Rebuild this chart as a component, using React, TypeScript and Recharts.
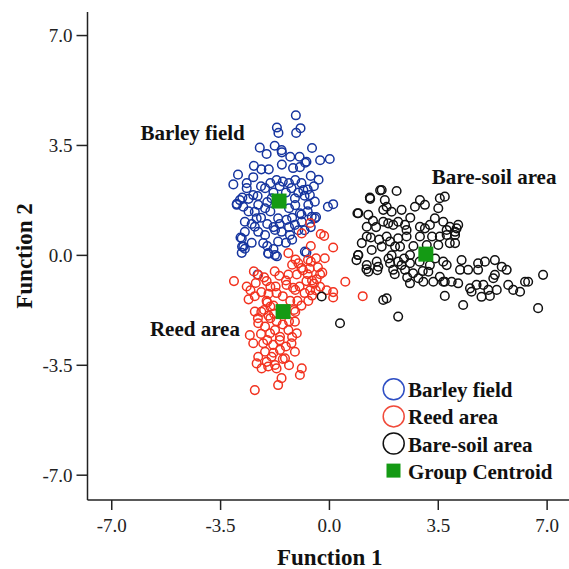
import React from "react";
import { ScatterChart, Scatter, XAxis, YAxis } from "recharts";

// discriminant scores, [function 1, function 2]
const barleyPoints: [number, number][] = [
  [-1.08, 4.46], [-1.69, 4.07], [-1.64, 3.9], [-0.93, 4.05], [-1.07, 3.9],
  [-2.24, 3.43], [-2.02, 3.23], [-1.76, 3.49], [-1.54, 3.35], [-1.53, 3.28], [-0.56, 3.42],
  [-1.26, 3.14], [-0.96, 3.14], [-0.74, 2.98], [-0.78, 2.95], [-0.3, 3.03], [0.01, 3.07],
  [-2.43, 2.85], [-2.19, 2.74], [-1.95, 2.74], [-1.53, 2.89], [-1.17, 2.78], [-0.95, 2.81],
  [-2.94, 2.57], [-3.09, 2.26], [-2.66, 2.3], [-2.45, 2.49], [-0.6, 2.53], [-0.35, 2.41],
  [-2.98, 1.64], [-2.8, 1.84], [-2.6, 1.8], [-2.31, 1.89],
  [-2.86, 0.57], [-2.81, 0.28], [-2.72, 0.21], [-2.82, 0.08],
  [-1.96, 0.05], [-1.69, -0.03], [-0.74, 0.09], [-2.31, -0.61], [-0.05, 1.55], [0.12, 1.63], [-0.43, 1.22],
  [-2.88, 1.76], [-2.98, 1.61], [-2.77, 1.55], [-2.72, 1.07], [-2.72, 0.75], [-2.82, 0.54],
  [-2.77, 0.28], [-2.34, 1.18], [-2.4, 0.91], [-2.29, 0.75], [-2.07, 0.65], [-2.13, 0.39],
  [-1.97, 0.07], [-1.75, 0.01], [-1.65, 1.18], [-1.38, 1.13], [-1.75, 0.81], [-1.54, 0.75],
  [-1.65, 0.44], [-1.27, 0.65], [-1.11, 0.97], [-0.89, 1.07], [-0.95, 1.34], [-0.68, 1.61],
  [-0.57, 1.23], [-0.47, 1.18], [-2.07, 2.14], [-1.86, 1.82], [-1.22, 2.14], [-1.11, 1.82],
  [-0.84, 2.08], [-0.63, 1.92], [-0.47, 1.71], [-2.4, 1.39], [-2.29, 1.61], [-2.07, 1.5],
  [-2.45, 1.92], [-2.66, 2.14], [-0.79, 0.12],
  [-1.9, 2.3], [-1.7, 2.4], [-1.5, 2.35], [-1.3, 2.3], [-1.1, 2.4], [-0.9, 2.3], [-2.2, 2.2],
  [-1.8, 2.0], [-1.4, 2.0], [-1.0, 2.0], [-0.8, 1.9], [-2.0, 1.7], [-1.9, 1.4], [-1.3, 1.5],
  [-1.1, 1.6], [-0.9, 1.3], [-0.7, 1.4], [-2.2, 1.2], [-2.0, 1.0], [-1.8, 0.9], [-1.6, 1.0],
  [-1.3, 0.9], [-1.0, 0.8], [-0.8, 0.8], [-0.6, 0.9], [-1.4, 0.4], [-1.2, 0.5], [-2.0, 0.3],
  [-1.8, 0.2], [-2.5, 0.4], [-2.5, 1.0], [-2.6, 1.4], [-1.6, 2.2], [-1.2, 1.2], [-0.7, 2.1], [-0.5, 2.2],
];

const reedPoints: [number, number][] = [
  [-0.62, 1.03], [-0.89, 0.7], [-0.28, 0.68], [-0.17, 0.62], [-0.6, 0.3], [0.12, 0.25],
  [-1.32, 0.07], [-1.09, -0.13], [-1.0, -0.25], [-0.69, -0.14], [-0.43, -0.09], [-0.15, -0.09],
  [-2.43, -0.51], [-2.29, -0.62], [-1.76, -0.51], [-1.61, -0.65], [-1.32, -0.61], [-1.05, -0.61],
  [-0.85, -0.47], [-0.64, -0.42], [-0.37, -0.38], [-0.23, -0.55], [-3.07, -0.82], [0.51, -0.84], [1.07, -1.3],
  [-2.66, -0.99], [-2.54, -1.11], [-2.37, -0.88], [-2.02, -0.82], [-1.73, -0.99], [-1.38, -0.94],
  [-1.17, -1.03], [-0.96, -0.99], [-0.74, -0.82], [-0.56, -0.8], [-0.41, -0.76], [-0.62, -1.11],
  [-0.44, -1.11], [-0.09, -1.11], [0.12, -1.17], [0.12, -1.34],
  [-2.19, -1.17], [-1.96, -1.22], [-2.02, -1.45], [-1.9, -1.63], [-2.1, -1.74], [-2.19, -1.8],
  [-1.96, -1.92], [-1.78, -1.86], [-1.26, -1.45], [-1.03, -1.45], [-0.68, -1.45], [-0.56, -1.28], [-1.14, -1.74],
  [-2.4, -1.79], [-2.56, -2.54], [-2.45, -2.8], [-2.29, -3.23], [-2.34, -3.44], [-2.18, -3.6],
  [-1.97, -3.54], [-1.75, -3.49], [-1.43, -3.28], [-1.11, -3.07], [-1.22, -2.8], [-1.05, -2.48],
  [-1.11, -2.11], [-0.89, -3.6], [-0.95, -3.81], [-1.54, -3.91], [-1.65, -4.13], [-2.4, -4.29],
  [-2.07, -2.27], [-1.91, -2.48], [-1.75, -2.38], [-1.59, -2.59], [-1.32, -2.38], [-1.81, -2.85],
  [-1.59, -3.01], [-2.07, -3.07], [-1.86, -3.23], [-2.02, -3.39], [-2.13, -2.8], [-2.29, -2.16],
  [-2.0, -1.5], [-1.8, -1.6], [-1.9, -2.0], [-1.7, -2.1], [-1.5, -2.2], [-1.3, -2.1], [-1.6, -2.7],
  [-1.4, -2.9], [-1.8, -3.1], [-1.5, -3.3], [-2.2, -2.5], [-1.2, -2.6], [-2.0, -2.7], [-1.7, -3.6],
  [-1.3, -3.5], [-2.3, -2.0], [-1.1, -1.8], [-0.9, -1.6], [-0.8, -1.2], [-1.5, -1.3], [-1.7, -1.2],
  [-1.9, -1.0], [-2.1, -0.7], [-1.4, -0.8], [-1.2, -0.3], [-0.9, -0.4], [-0.6, -0.2], [-0.3, -0.6],
  [-0.5, -0.9], [-0.3, -1.0], [-0.7, -0.6], [-1.1, -1.1], [-2.4, -1.3], [-2.6, -1.4],
];

const bareSoilPoints: [number, number][] = [
  [1.68, 2.08], [2.16, 2.05], [1.3, 1.84], [1.78, 1.76], [1.84, 1.55], [0.93, 1.34], [1.25, 1.29],
  [1.73, 1.45], [2.0, 1.39], [2.32, 1.45], [2.75, 1.55], [2.91, 1.76], [3.07, 1.61], [3.55, 1.82],
  [3.71, 1.87], [3.5, 1.5], [1.73, 1.07], [1.89, 1.02], [2.05, 0.97], [2.21, 1.07], [2.43, 0.97],
  [1.2, 0.91], [1.2, 0.6], [1.04, 0.39], [1.36, 0.17], [1.84, 0.6], [1.95, 0.44], [2.21, 0.54],
  [2.48, 0.6], [2.48, 0.81], [2.11, 0.28], [2.27, 0.28], [1.68, 0.28], [2.91, 0.91], [3.07, 0.86],
  [3.23, 0.97], [3.39, 1.18], [3.66, 1.07], [3.77, 0.81], [4.09, 0.86], [4.04, 0.65], [3.55, 0.6],
  [3.13, 0.33], [2.91, 0.6], [3.5, 0.33], [0.93, 0.01], [0.87, -0.15], [1.2, -0.31], [1.25, -0.52],
  [1.52, -0.2], [1.57, -0.36], [1.95, -0.25], [2.21, -0.2], [2.32, -0.31], [2.59, 0.01], [2.59, -0.25],
  [2.05, -0.46], [2.43, -0.46], [2.69, -0.57], [2.86, -0.73], [3.02, -0.84], [2.59, -0.89], [3.18, -0.52],
  [3.23, -0.31], [3.55, -0.68], [3.71, -0.84], [3.77, -0.31], [3.34, -0.84], [1.73, -1.42], [1.84, -1.37],
  [2.21, -1.95], [0.34, -2.16], [-0.25, -1.31],
  [4.14, 0.97], [3.87, 0.91], [4.04, 0.75], [3.77, 0.65], [3.87, 0.39], [4.04, 0.39], [3.66, -0.2],
  [4.25, -0.15], [4.2, -0.46], [4.46, -0.46], [4.78, -0.25], [4.78, -0.46], [5.0, -0.2], [5.32, -0.15],
  [5.54, -0.36], [5.7, -0.46], [5.32, -0.62], [5.27, -0.73], [3.66, -0.84], [3.93, -0.84], [4.14, -0.89],
  [4.52, -1.05], [4.57, -1.16], [4.73, -0.94], [4.95, -0.94], [5.11, -1.1], [5.38, -1.1], [5.75, -0.94],
  [5.91, -1.1], [6.13, -1.16], [6.29, -0.84], [6.39, -0.84], [6.87, -0.62], [3.71, -1.29], [4.89, -1.32],
  [5.16, -1.29], [4.3, -1.58], [6.71, -1.68],
  [0.9, 1.34], [1.31, 1.8], [1.63, 2.07], [1.33, 0.57], [0.92, 0.01], [1.19, -0.44], [1.54, -0.47],
  [1.5, 0.9], [1.6, 0.5], [2.0, 0.0], [2.4, -0.1], [2.7, 0.3], [2.9, -0.2], [3.3, 0.6], [2.6, 1.2],
  [1.4, 1.1], [2.1, -0.6], [3.0, -0.5], [2.5, -0.7], [1.9, -0.1], [3.4, -0.1],
];

const centroidPoints: [number, number][] = [
  [-1.62, 1.73],
  [-1.49, -1.79],
  [3.1, 0.04],
];

const axisTicks = [-7, -3.5, 0, 3.5, 7];

const legendItems = [
  { name: "Barley field", color: "#2f4fc4", kind: "circle" },
  { name: "Reed area", color: "#f04a3a", kind: "circle" },
  { name: "Bare-soil area", color: "#111111", kind: "circle" },
  { name: "Group Centroid", color: "#149a14", kind: "square" },
];

const toXY = (pts: [number, number][]) => pts.map(([x, y]) => ({ x, y }));

const FONT = "'Liberation Serif', 'Times New Roman', serif";
const BLUE = "#16359f";
const RED = "#f2321f";
const BLACK = "#111111";
const GREEN = "#149a14";

const ring = (color: string) => (props: any) =>
  <circle cx={props.cx} cy={props.cy} r={4.3} fill="none" stroke={color} strokeWidth={1.5} />;

const square = (props: any) =>
  <rect x={props.cx - 7.5} y={props.cy - 7.5} width={15} height={15} fill={GREEN} />;

export default function App() {
  const tickStyle = { fill: "#222", fontSize: 19, fontFamily: FONT };
  return (
    <div style={{ position: "absolute", left: 0, top: 0, width: 569, height: 569, overflow: "hidden", background: "#fff" }}>
      <ScatterChart width={580} height={569} margin={{ top: 12, right: 8, bottom: 0, left: 0 }}>
        <XAxis
          type="number"
          dataKey="x"
          domain={[-7.78, 7.8]}
          ticks={axisTicks}
          tickFormatter={(v: number) => v.toFixed(1)}
          allowDataOverflow
          height={69}
          tickSize={10}
          tickMargin={9}
          tick={tickStyle}
          axisLine={{ stroke: "#222", strokeWidth: 1.5 }}
          tickLine={{ stroke: "#222", strokeWidth: 1.5 }}
          label={{ value: "Function 1", position: "center", dy: 22, fontFamily: FONT, fontWeight: "bold", fontSize: 23, fill: "#111" }}
        />
        <XAxis xAxisId="top" orientation="top" type="number" dataKey="x" domain={[-7.78, 7.8]} height={0} tick={false} tickLine={false} axisLine={{ stroke: "#222", strokeWidth: 1.5 }} />
        <YAxis
          type="number"
          dataKey="y"
          domain={[-7.79, 7.75]}
          ticks={axisTicks}
          tickFormatter={(v: number) => v.toFixed(1)}
          allowDataOverflow
          width={87.5}
          tickSize={11}
          tickMargin={4}
          tick={tickStyle}
          axisLine={{ stroke: "#222", strokeWidth: 1.5 }}
          tickLine={{ stroke: "#222", strokeWidth: 1.5 }}
          label={{ value: "Function 2", angle: -90, position: "center", dx: -20, fontFamily: FONT, fontWeight: "bold", fontSize: 23, fill: "#111" }}
        />
        <Scatter name="Barley field" data={toXY(barleyPoints)} shape={ring(BLUE)} isAnimationActive={false} />
        <Scatter name="Reed area" data={toXY(reedPoints)} shape={ring(RED)} isAnimationActive={false} />
        <Scatter name="Bare-soil area" data={toXY(bareSoilPoints)} shape={ring(BLACK)} isAnimationActive={false} />
        <Scatter name="Group Centroid" data={toXY(centroidPoints)} shape={square} isAnimationActive={false} />
      </ScatterChart>
      <svg width={569} height={569} style={{ position: "absolute", left: 0, top: 0, pointerEvents: "none" }}>
        <g fontFamily={FONT} fontWeight="bold" fontSize={21} fill="#111">
          <text x={140.4} y={140.4}>Barley field</text>
          <text x={431.8} y={184.3}>Bare-soil area</text>
          <text x={149.9} y={335.6}>Reed area</text>
        </g>
        <g transform="translate(381, 376)">
          {legendItems.map((it, i) => {
            const cy = 13.3 + i * 27.1;
            return (
              <g key={it.name}>
                {it.kind === "circle" ? (
                  <circle cx={12.7} cy={cy} r={10.5} fill="none" stroke={it.color} strokeWidth={1.5} />
                ) : (
                  <rect x={5.5} y={cy - 7} width={14} height={14} fill={it.color} />
                )}
                <text x={27} y={cy + 8} fontFamily={FONT} fontWeight="bold" fontSize={21} fill="#111">
                  {it.name}
                </text>
              </g>
            );
          })}
        </g>
      </svg>
    </div>
  );
}
